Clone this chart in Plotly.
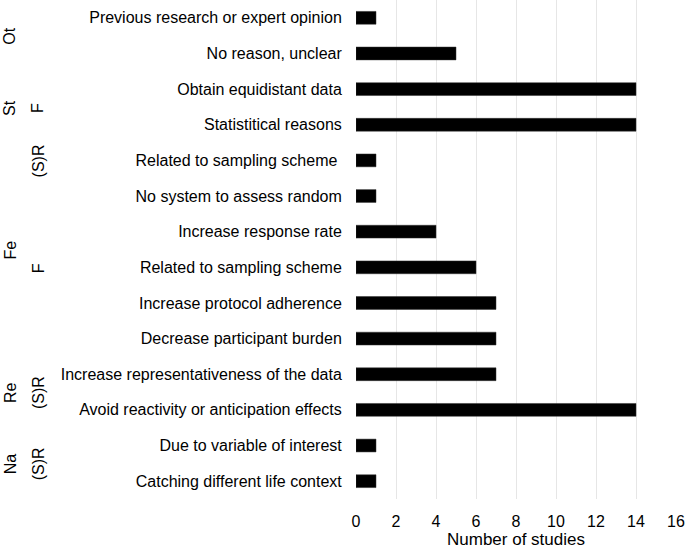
import plotly.graph_objects as go

categories = [
    "Previous research or expert opinion",
    "No reason, unclear",
    "Obtain equidistant data",
    "Statistitical reasons",
    "Related to sampling scheme ",
    "No system to assess random",
    "Increase response rate",
    "Related to sampling scheme",
    "Increase protocol adherence",
    "Decrease participant burden",
    "Increase representativeness of the data",
    "Avoid reactivity or anticipation effects",
    "Due to variable of interest",
    "Catching different life context",
]
studies = [1, 5, 14, 14, 1, 1, 4, 6, 7, 7, 7, 14, 1, 1]

x_ticks = [0, 2, 4, 6, 8, 10, 12, 14, 16]

# group labels: (text, category position)
outer_labels = ["Ot", "St", "Fe", "Re", "Na"]
outer_pos = [0.5, 2.5, 6.5, 10.5, 12.5]
inner_labels = ["F", "(S)R", "F", "(S)R", "(S)R"]
inner_pos = [2.5, 4.0, 7.0, 10.5, 12.5]

FONT = "Liberation Sans, Arial, Helvetica, sans-serif"

fig = go.Figure(
    go.Bar(
        x=studies,
        y=categories,
        orientation="h",
        marker=dict(color="black", line=dict(color="#333333", width=0.5)),
        width=0.36,
        hoverinfo="x+y",
    )
)

L, R, T, B = 356, 9, 0, 50
W, H = 685, 549
pw = W - L - R

annotations = []
for txt, pos in zip(outer_labels, outer_pos):
    annotations.append(dict(text=txt, x=(10 - L) / pw, xref="paper", y=pos, yref="y",
                            textangle=-90, showarrow=False, xanchor="center", yanchor="middle",
                            yshift=-1, font=dict(size=16, color="black", family=FONT)))
for txt, pos in zip(inner_labels, inner_pos):
    annotations.append(dict(text=txt, x=(38 - L) / pw, xref="paper", y=pos, yref="y",
                            textangle=-90, showarrow=False, xanchor="center", yanchor="middle",
                            yshift=-1, font=dict(size=16, color="black", family=FONT)))

fig.update_layout(
    width=W, height=H,
    margin=dict(l=L, r=R, t=T, b=B, pad=0, autoexpand=False),
    plot_bgcolor="white", paper_bgcolor="white",
    font=dict(family=FONT, size=16, color="black"),
    showlegend=False,
    annotations=annotations,
    xaxis=dict(
        range=[0, 16], tickvals=x_ticks, showgrid=True, gridcolor="#e6e6e6", gridwidth=1,
        zeroline=False, showline=False, ticks="outside", ticklen=8, tickcolor="rgba(0,0,0,0)",
        tickfont=dict(size=16, color="black"), automargin=False,
        title=dict(text="Number of studies", font=dict(size=17, color="black"), standoff=7),
        fixedrange=True,
    ),
    yaxis=dict(
        categoryorder="array", categoryarray=categories, autorange="reversed",
        showgrid=False, zeroline=False, showline=False, ticks="outside", ticklen=10,
        tickcolor="rgba(0,0,0,0)", tickfont=dict(size=16, color="black"), automargin=False,
        fixedrange=True,
    ),
)

fig.write_html(
    "out.html",
    config={"displayModeBar": False},
    post_script="document.body.style.margin='0';document.body.style.overflow='hidden';",
)
